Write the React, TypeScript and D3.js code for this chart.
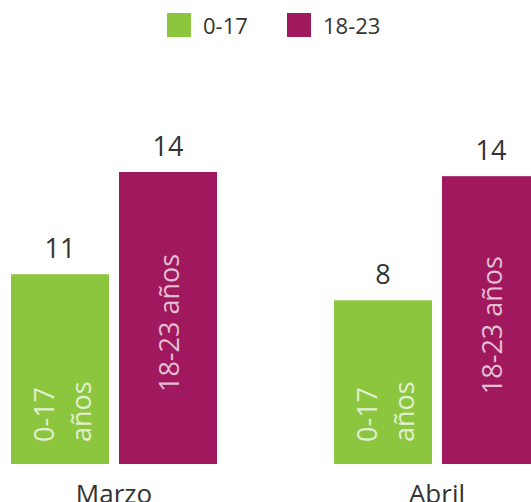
import React from "react";
import * as d3 from "d3";

const months = ["Marzo", "Abril"];
const groups = ["0-17", "18-23"];
const legendLabels = ["0-17", "18-23"];
const barLabels = [["0-17", "años"], ["18-23 años"]];
// displayed value labels
const valueLabels = [
  [11, 14],
  [8, 14],
];
// bar heights
const barValues = [
  [9.1, 14],
  [7.85, 13.8],
];
const colors = ["#8cc63f", "#a0195e"];

const W = 531;
const H = 502;
const FONT = "'Open Sans', 'Noto Sans', sans-serif";

export default function App() {
  const baseY = 464;
  const y = d3.scaleLinear().domain([0, 14]).range([baseY, 172]);
  const x0 = d3.scaleBand<string>().domain(months).range([11, 540]).paddingInner(0.3622).paddingOuter(0);
  const x1 = d3.scaleBand<string>().domain(groups).range([0, x0.bandwidth()]).paddingInner(0.0926).paddingOuter(0);
  const bw = x1.bandwidth();

  const legendX = d3.scalePoint<string>().domain(legendLabels).range([167, 287]);

  return (
    <div style={{ position: "absolute", left: 0, top: 0 }}>
      <svg width={W} height={H} style={{ display: "block", background: "#fff" }}>
        {/* legend */}
        {legendLabels.map((l, i) => (
          <g key={l} transform={`translate(${legendX(l)},13)`}>
            <rect width={24} height={24} fill={colors[i]} />
            <text x={36} y={21} fontFamily={FONT} fontSize={22} fill="#333">
              {l}
            </text>
          </g>
        ))}
        {months.map((m, mi) => (
          <g key={m} transform={`translate(${x0(m)},0)`}>
            {groups.map((g, gi) => {
              const bx = x1(g)!;
              const top = y(barValues[mi][gi]);
              const h = baseY - top;
              const lines = barLabels[gi];
              return (
                <g key={g}>
                  <rect x={bx} y={top} width={bw} height={h} fill={colors[gi]} />
                  <text
                    x={bx + bw / 2}
                    y={top - 16}
                    textAnchor="middle"
                    fontFamily={FONT}
                    fontSize={27}
                    fill="#333"
                  >
                    {valueLabels[mi][gi]}
                  </text>
                  {lines.length === 2
                    ? lines.map((ln, li) => (
                        <text
                          key={li}
                          transform={`translate(${bx + 43 + li * 37},${baseY - 22}) rotate(-90)`}
                          textAnchor="start"
                          fontFamily={FONT}
                          fontSize={27}
                          fill="#fff"
                          fillOpacity={0.75}
                        >
                          {ln}
                        </text>
                      ))
                    : (
                        <text
                          transform={`translate(${bx + bw / 2 + 11},${(top + baseY) / 2 + 5}) rotate(-90)`}
                          textAnchor="middle"
                          fontFamily={FONT}
                          fontSize={27}
                          fill="#fff"
                          fillOpacity={0.72}
                        >
                          {lines[0]}
                        </text>
                      )}
                </g>
              );
            })}
            <text
              x={x0.bandwidth() / 2}
              y={503}
              textAnchor="middle"
              fontFamily={FONT}
              fontSize={26}
              fill="#333"
            >
              {m}
            </text>
          </g>
        ))}
      </svg>
    </div>
  );
}
